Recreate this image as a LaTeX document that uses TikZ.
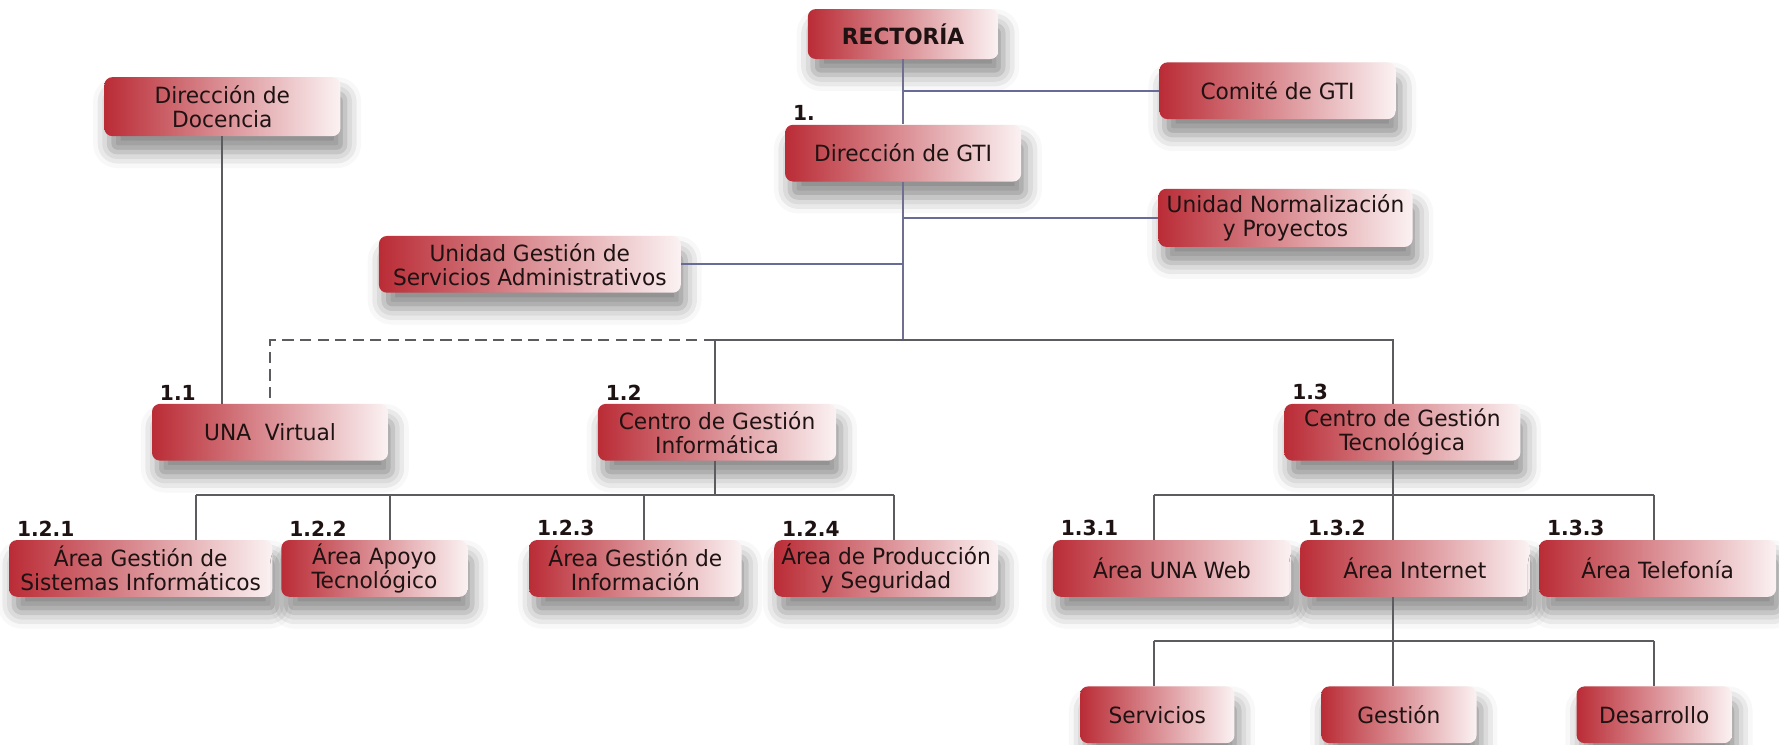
\documentclass[tikz,border=0pt]{standalone}
\usepackage{fontspec}
\setmainfont{DejaVu Sans Condensed}[FakeStretch=1.08]
\usepackage{tikz}
\usetikzlibrary{shadows.blur}
\definecolor{boxred}{RGB}{186,44,54}
\definecolor{boxmid}{RGB}{214,124,130}
\definecolor{boxpale}{RGB}{251,242,243}
\definecolor{linkblue}{RGB}{104,106,152}
\definecolor{linkgrey}{RGB}{92,92,96}
\definecolor{ink}{RGB}{30,18,18}
\tikzstyle{chart}=[x=0.025cm, y=-0.025cm, font=\fontsize{14}{15}\selectfont, text=ink]
\tikzstyle{unit}=[rectangle, rounded corners=5pt, align=center, inner sep=2pt, minimum height=1.25cm, left color=boxred, middle color=boxmid, right color=boxpale, blur shadow={shadow xshift=3pt, shadow yshift=-10pt, shadow blur radius=10pt, shadow opacity=45}]
\tikzstyle{num}=[anchor=south west, inner sep=1pt, xshift=4pt, yshift=1pt, font=\fontsize{13}{15}\selectfont\bfseries]
\tikzstyle{link}=[-, line width=1.3pt, draw=linkgrey]
\tikzstyle{vlink}=[-, line width=1.3pt, draw=linkblue!70!gray]
\tikzstyle{blink}=[-, line width=1.3pt, draw=linkblue]
\tikzstyle{dlink}=[-, line width=1.3pt, draw=linkgrey, dash pattern=on 7pt off 4pt]

\begin{document}
\begin{tikzpicture}[chart]
	\useasboundingbox (0,0) rectangle (1568,656);

	%The head
	\draw (796,30) node[unit, minimum width=4.2cm, minimum height=1.1cm, font=\fontsize{14}{15}\selectfont\bfseries] (rect) {RECTORÍA};
	\draw (1126,80) node[unit, minimum width=5.2cm] (comite) {Comité de GTI};
	\draw (796,135) node[unit, minimum width=5.2cm] (dgti) {Dirección de GTI};
	\draw (1133,192) node[unit, minimum width=5.6cm, minimum height=1.28cm] (norm) {Unidad Normalización\\y Proyectos};
	\draw (196,94) node[unit, minimum width=5.2cm, minimum height=1.3cm] (doc) {Dirección de\\Docencia};
	\draw (467,233) node[unit, minimum width=6.65cm] (adm) {Unidad Gestión de\\Servicios Administrativos};

	%The centres
	\draw (238,381) node[unit, minimum width=5.2cm] (unav) {UNA\ \ Virtual};
	\draw (632,381) node[unit, minimum width=5.25cm] (cgi) {Centro de Gestión\\Informática};
	\draw (1236,381) node[unit, minimum width=5.2cm] (cgt) {Centro de Gestión\\Tecnológica};

	%The areas
	\draw (124,501) node[unit, minimum width=5.8cm] (a121) {Área Gestión de\\Sistemas Informáticos};
	\draw (330,501) node[unit, minimum width=4.1cm] (a122) {Área Apoyo\\Tecnológico};
	\draw (560,501) node[unit, minimum width=4.68cm] (a123) {Área Gestión de\\Información};
	\draw (781,501) node[unit, minimum width=4.93cm] (a124) {Área de Producción\\y Seguridad};
	\draw (1033,501) node[unit, minimum width=5.25cm] (a131) {Área UNA Web};
	\draw (1247,501) node[unit, minimum width=5.05cm] (a132) {Área Internet};
	\draw (1461,501) node[unit, minimum width=5.22cm] (a133) {Área Telefonía};

	%The internet units
	\draw (1020,630) node[unit, minimum width=3.4cm] (serv) {Servicios};
	\draw (1233,630) node[unit, minimum width=3.42cm] (gest) {Gestión};
	\draw (1458,630) node[unit, minimum width=3.42cm] (desa) {Desarrollo};

	%The numbers
	\draw (dgti.north west) node[num] (n1) {1.};
	\draw (unav.north west) node[num] (n11) {1.1};
	\draw (cgi.north west) node[num] (n12) {1.2};
	\draw (cgt.north west) node[num] (n13) {1.3};
	\draw (a121.north west) node[num] (n121) {1.2.1};
	\draw (a122.north west) node[num] (n122) {1.2.2};
	\draw (a123.north west) node[num] (n123) {1.2.3};
	\draw (a124.north west) node[num] (n124) {1.2.4};
	\draw (a131.north west) node[num] (n131) {1.3.1};
	\draw (a132.north west) node[num] (n132) {1.3.2};
	\draw (a133.north west) node[num] (n133) {1.3.3};

	%The bus points
	\coordinate (hub) at (796,300);
	\coordinate (b12) at (630,436);
	\coordinate (b13) at (1228,436);
	\coordinate (d121) at (173,436);
	\coordinate (d122) at (344,436);
	\coordinate (d123) at (568,436);
	\coordinate (d124) at (788,436);
	\coordinate (d131) at (1017,436);
	\coordinate (d132) at (1228,436);
	\coordinate (d133) at (1458,436);
	\coordinate (e1) at (1017,565);
	\coordinate (e2) at (1228,565);
	\coordinate (e3) at (1458,565);

	%The upper links
	\draw[vlink] (rect) -- (dgti);
	\draw[blink] (rect |- comite) -- (comite);
	\draw[vlink] (dgti) -- (hub);
	\draw[blink] (dgti |- norm) -- (norm);
	\draw[blink] (adm) -- (dgti |- adm);

	%The lower links
	\draw[link] (hub) -| (b13 |- cgt.north);
	\draw[link] (hub) -| (b12 |- cgi.north);
	\draw[dlink] (b12 |- hub) -| (unav);
	\draw[link] (doc) -- (doc |- unav.north);

	\draw[link] (b12 |- cgi.south) -- (b12);
	\draw[link] (d121) -- (d124);
	\foreach \n in {121,122,123,124}
		\draw[link] (d\n) -- (d\n |- a\n.north);

	\draw[link] (b13 |- cgt.south) -- (b13);
	\draw[link] (d131) -- (d133);
	\foreach \n in {131,132,133}
		\draw[link] (d\n) -- (d\n |- a\n.north);

	\draw[link] (b13 |- a132.south) -- (e2);
	\draw[link] (e1) -- (e3);
	\draw[link] (e1) -- (e1 |- serv.north);
	\draw[link] (e2) -- (e2 |- gest.north);
	\draw[link] (e3) -- (e3 |- desa.north);
\end{tikzpicture}
\end{document}
